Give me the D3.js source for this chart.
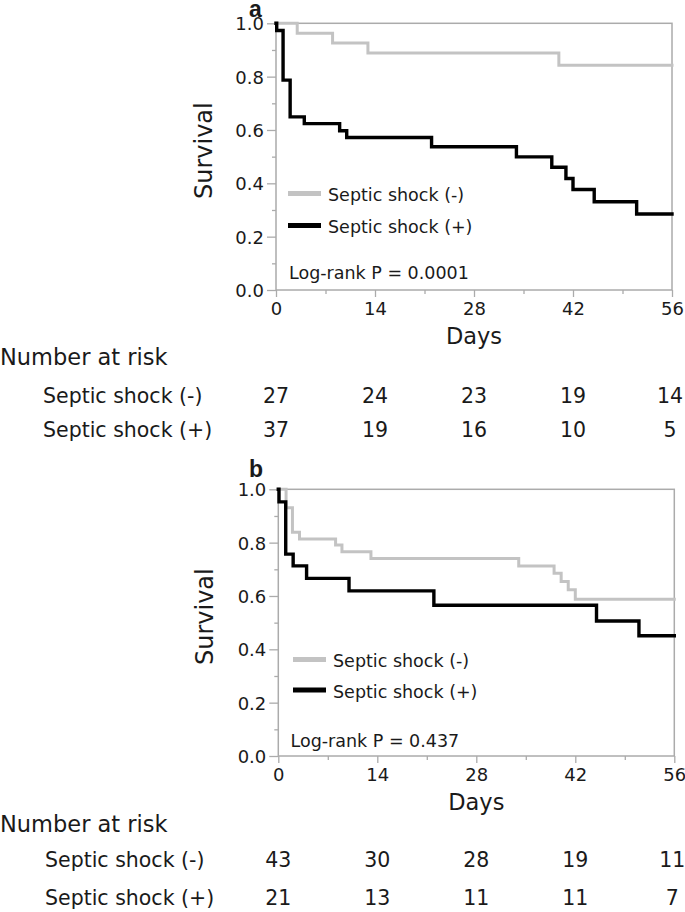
<!DOCTYPE html>
<html><head><meta charset="utf-8">
<script src="https://cdn.jsdelivr.net/npm/d3@7"></script>
<style>
html,body{margin:0;padding:0;background:#fff;}
svg text{font-family:"DejaVu Sans",Verdana,sans-serif;fill:#1a1a1a;}
</style></head>
<body>
<svg id="chart" width="685" height="912"></svg>
<script>
// ---- data ----
const xTicks = [0, 14, 28, 42, 56];
const xMinor = [7, 21, 35, 49];
const yTicks = [0, 0.2, 0.4, 0.6, 0.8, 1.0];
const yMinor = [0.1, 0.3, 0.5, 0.7, 0.9];
const seriesNames = ["Septic shock (-)", "Septic shock (+)"];

// Panel a
const aNegTime = [0, 3, 8, 13, 40, 56];
const aNegSurv = [1, 0.963, 0.926, 0.889, 0.843, 0.843];
const aPosTime = [0, 0.1, 1, 2, 4, 9, 10, 22, 34, 39, 41, 42, 45, 51, 56];
const aPosSurv = [1, 0.973, 0.787, 0.649, 0.624, 0.597, 0.572, 0.537, 0.499, 0.46, 0.418, 0.377, 0.331, 0.285, 0.285];
const aRiskNeg = [27, 24, 23, 19, 14];
const aRiskPos = [37, 19, 16, 10, 5];
const aPValue = "Log-rank P = 0.0001";

// Panel b
const bNegTime = [0, 1.1, 2, 3, 8.1, 9, 13.1, 34, 39, 40, 41, 42, 56];
const bNegSurv = [1, 0.931, 0.839, 0.814, 0.791, 0.766, 0.741, 0.712, 0.685, 0.654, 0.623, 0.588, 0.588];
const bPosTime = [0, 0.1, 1.05, 2.1, 4, 10, 22, 45, 51, 56];
const bPosSurv = [1, 0.953, 0.757, 0.713, 0.666, 0.619, 0.565, 0.506, 0.451, 0.451];
const bRiskNeg = [43, 30, 28, 19, 11];
const bRiskPos = [21, 13, 11, 11, 7];
const bPValue = "Log-rank P = 0.437";

const svg = d3.select("#chart");
const colors = ["#c3c3c3", "#000000"];
const frameColor = "#ababab";

function drawPanel(p) {
  const g = svg.append("g").attr("transform", `translate(0,${p.oy})`);
  const x = d3.scaleLinear().domain([0, 56]).range([p.left, p.right]);
  const y = d3.scaleLinear().domain([0, 1]).range([p.bottom, p.top]);

  // panel letter
  g.append("text").attr("x", 249).attr("y", p.letterY)
    .style("font-family", "'Liberation Sans',Arial,sans-serif")
    .style("font-weight", "bold").style("font-size", "23px").text(p.letter);

  // frame
  g.append("rect").attr("x", p.left).attr("y", p.top)
    .attr("width", p.right - p.left).attr("height", p.bottom - p.top)
    .attr("fill", "none").attr("stroke", frameColor).attr("stroke-width", 1.5);

  // axes
  const xAxis = g.append("g").attr("transform", `translate(0,${p.bottom})`)
    .call(d3.axisBottom(x).tickValues(xTicks).tickSize(7).tickPadding(4).tickFormat(d3.format("d")));
  const xAxisMinor = g.append("g").attr("transform", `translate(0,${p.bottom})`)
    .call(d3.axisBottom(x).tickValues(xMinor).tickSize(4).tickFormat(""));
  const yAxis = g.append("g").attr("transform", `translate(${p.left},0)`)
    .call(d3.axisLeft(y).tickValues(yTicks).tickSize(9).tickPadding(3).tickFormat(d3.format(".1f")));
  const yAxisMinor = g.append("g").attr("transform", `translate(${p.left},0)`)
    .call(d3.axisLeft(y).tickValues(yMinor).tickSize(4).tickFormat(""));
  [xAxis, xAxisMinor, yAxis, yAxisMinor].forEach(a => {
    a.select(".domain").remove();
    a.selectAll("line").attr("stroke", frameColor).attr("stroke-width", 1.3);
    a.selectAll("text").style("font-size", "18px").attr("fill", "#1a1a1a")
      .style("font-family", "'DejaVu Sans',Verdana,sans-serif");
  });
  yAxis.selectAll("text").attr("dy", "0.36em");
  xAxis.selectAll("text").attr("dy", "0.75em");

  // axis titles
  g.append("text").attr("transform", `translate(${p.survX},${(p.top + p.bottom) / 2 - 6}) rotate(-90)`)
    .attr("text-anchor", "middle").style("font-size", "24px").text("Survival");
  g.append("text").attr("x", (p.left + p.right) / 2).attr("y", 343.5)
    .attr("text-anchor", "middle").style("font-size", "22.5px").text("Days");

  // curves
  const line = d3.line().curve(d3.curveStepAfter).x(d => x(d[0])).y(d => y(d[1]));
  const series = [
    { t: p.negTime, s: p.negSurv, c: colors[0], w: 3 },
    { t: p.posTime, s: p.posSurv, c: colors[1], w: 3.4 }
  ];
  series.forEach(sr => {
    g.append("path").datum(sr.t.map((t, i) => [t, sr.s[i]]))
      .attr("d", line).attr("fill", "none").attr("stroke", sr.c)
      .attr("stroke-width", sr.w).attr("stroke-linejoin", "miter").attr("stroke-linecap", "square");
  });

  // legend
  const leg = g.append("g");
  seriesNames.forEach((name, i) => {
    const ly = p.legY + i * p.legGap;
    leg.append("line").attr("x1", p.legX).attr("x2", p.legX + 33)
      .attr("y1", ly).attr("y2", ly).attr("stroke", colors[i]).attr("stroke-width", 5);
    leg.append("text").attr("x", p.legX + 40).attr("y", ly + 7.5)
      .style("font-size", "17.5px").text(name);
  });
  g.append("text").attr("x", p.pX).attr("y", p.pY)
    .style("font-size", "17.5px").text(p.pText);

  // risk table
  g.append("text").attr("x", 0).attr("y", 365).style("font-size", "22.5px").text("Number at risk");
  const rows = [p.riskNeg, p.riskPos];
  rows.forEach((vals, i) => {
    const ry = p.rowY[i];
    g.append("text").attr("x", p.rowX).attr("y", ry).style("font-size", "20.5px").text(seriesNames[i]);
    g.selectAll(null).data(vals).enter().append("text")
      .attr("x", (d, j) => x(xTicks[j]) - (j === vals.length - 1 ? 2 : 0)).attr("y", ry)
      .attr("text-anchor", "middle").style("font-size", "20.5px").text(d => d);
  });
}

drawPanel({
  oy: 0, letter: "a", letterY: 17,
  left: 276, right: 672, top: 23.3, bottom: 290, survX: 211.5,
  negTime: aNegTime, negSurv: aNegSurv, posTime: aPosTime, posSurv: aPosSurv,
  legX: 288, legY: 193.5, legGap: 32, pX: 289, pY: 278.5, pText: aPValue,
  riskNeg: aRiskNeg, riskPos: aRiskPos, rowX: 43, rowY: [402.7, 436.8]
});
drawPanel({
  oy: 466.5, letter: "b", letterY: 10,
  left: 278.3, right: 674.3, top: 22.8, bottom: 289.5, survX: 213,
  negTime: bNegTime, negSurv: bNegSurv, posTime: bPosTime, posSurv: bPosSurv,
  legX: 293, legY: 193, legGap: 30.5, pX: 290.5, pY: 280, pText: bPValue,
  riskNeg: bRiskNeg, riskPos: bRiskPos, rowX: 45, rowY: [400, 438.5]
});
</script>
</body></html>
